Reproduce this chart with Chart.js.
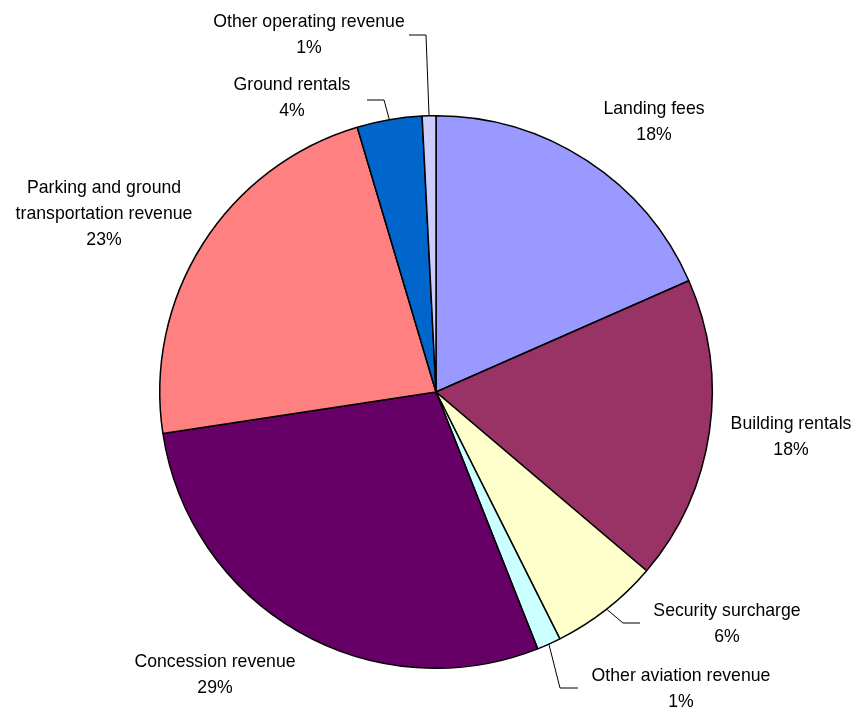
<!DOCTYPE html>
<html>
<head>
<meta charset="utf-8">
<script src="https://cdn.jsdelivr.net/npm/chart.js@4"></script>
<style>
  html, body { margin: 0; padding: 0; background: #ffffff; }
  #wrap { width: 854px; height: 711px; position: relative; }
</style>
</head>
<body>
<div id="wrap"><canvas id="revenueChart"></canvas></div>
<script>
// Revenue share data (percent)
const categories = [
  "Landing fees",
  "Building rentals",
  "Security surcharge",
  "Other aviation revenue",
  "Concession revenue",
  "Parking and ground transportation revenue",
  "Ground rentals",
  "Other operating revenue"
];
const shares = [18.4, 17.8, 6.4, 1.4, 28.6, 22.8, 3.8, 0.8];
const sliceColors = ["#9999FF", "#993366", "#FFFFCC", "#CCFFFF", "#660066", "#FF8080", "#0066CC", "#CCCCFF"];

// label text lines and where they sit (center x, first line y), plus leader lines
const labelLines = [
  ["Landing fees"],
  ["Building rentals"],
  ["Security surcharge"],
  ["Other aviation revenue"],
  ["Concession revenue"],
  ["Parking and ground", "transportation revenue"],
  ["Ground rentals"],
  ["Other operating revenue"]
];
const labelLayout = [
  { x: 654, y: 109 },
  { x: 791, y: 424 },
  { x: 727, y: 611 },
  { x: 681, y: 676 },
  { x: 215, y: 662 },
  { x: 104, y: 188 },
  { x: 292, y: 85 },
  { x: 309, y: 22 }
];
const leaders = [
  null,
  null,
  { elbow: [623, 623], end: [640, 623] },
  { elbow: [560, 688], end: [578, 688] },
  null,
  null,
  { elbow: [384, 100], end: [367, 100] },
  { elbow: [426, 35], end: [409, 35] }
];

// the original uses a narrow sans face; squeeze a regular one a bit
const FONT = '19px "Liberation Sans", Arial, sans-serif';
const SQUEEZE = 0.93;

const pieLabels = {
  id: "pieLabels",
  afterDraw(chart) {
    const ctx = chart.ctx;
    const arcs = chart.getDatasetMeta(0).data;
    ctx.save();
    // leader lines
    ctx.strokeStyle = "#000";
    ctx.lineWidth = 1;
    arcs.forEach((arc, i) => {
      const ld = leaders[i];
      if (!ld) return;
      const p = arc.getProps(["x", "y", "startAngle", "endAngle", "outerRadius"]);
      const mid = (p.startAngle + p.endAngle) / 2;
      const ex = p.x + Math.cos(mid) * p.outerRadius;
      const ey = p.y + Math.sin(mid) * p.outerRadius;
      ctx.beginPath();
      ctx.moveTo(ex, ey);
      ctx.lineTo(ld.elbow[0], ld.elbow[1]);
      ctx.lineTo(ld.end[0], ld.end[1]);
      ctx.stroke();
    });
    // text
    ctx.font = FONT;
    ctx.fillStyle = "#000";
    ctx.textAlign = "center";
    ctx.textBaseline = "middle";
    labelLines.forEach((lines, i) => {
      const pos = labelLayout[i];
      const all = lines.concat([Math.round(shares[i]) + "%"]);
      all.forEach((t, k) => {
        ctx.save();
        ctx.translate(pos.x, pos.y + k * 26);
        ctx.scale(SQUEEZE, 1);
        ctx.fillText(t, 0, 0);
        ctx.restore();
      });
    });
    ctx.restore();
  }
};

const ctx = document.getElementById("revenueChart").getContext("2d");
const chart = new Chart(ctx, {
  type: "pie",
  data: {
    labels: categories,
    datasets: [{
      data: shares,
      backgroundColor: sliceColors,
      borderColor: "#000000",
      borderWidth: 1.5
    }]
  },
  options: {
    responsive: true,
    maintainAspectRatio: false,
    animation: false,
    layout: {
      padding: { top: 115, bottom: 42, left: 159, right: 141 }
    },
    plugins: {
      legend: { display: false },
      tooltip: { enabled: false }
    }
  },
  plugins: [pieLabels]
});
</script>
</body>
</html>
